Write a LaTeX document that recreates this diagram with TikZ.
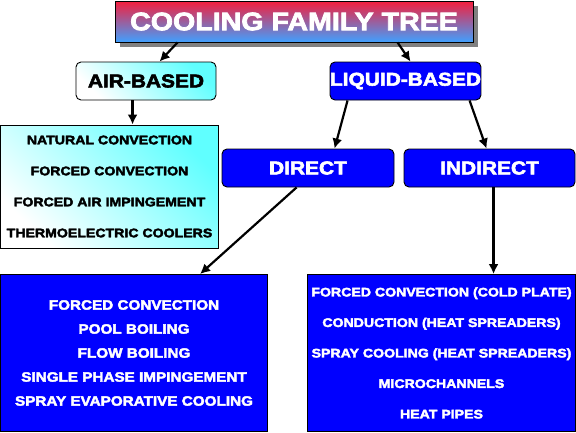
\documentclass[tikz,border=0pt]{standalone}
\usepackage{fontspec}
\setmainfont{Liberation Sans}[FakeStretch=1.13, BoldFeatures={FakeBold=3}]
\usetikzlibrary{arrows.meta,calc,shadows}
\definecolor{coolred}{RGB}{245,30,60}
\definecolor{coolblue}{RGB}{64,160,255}
\definecolor{aircyan}{RGB}{96,255,255}
\definecolor{deepblue}{RGB}{0,0,255}

\tikzset{
  box/.style={draw=black, line width=0.9pt, inner sep=0pt, align=center},
  branch/.style={box, rounded corners=5pt, minimum height=38pt,
    font=\bfseries\fontsize{18.5}{22}\selectfont},
  airfill/.style={top color=aircyan, bottom color=white, shading angle=-45},
  liquidfill/.style={fill=deepblue, text=white},
  listbox/.style 2 args={box, font=\bfseries\fontsize{#1}{#2}\selectfont},
  flow/.style={line width=2.2pt, -{Latex[length=10pt,width=10pt]}},
}

\begin{document}
\begin{tikzpicture}[x=1pt,y=-1pt]
    \useasboundingbox (0,0) rectangle (576,432);
    % title
    \node[box, minimum width=358pt, minimum height=41pt, top color=coolred,
      bottom color=coolblue, text=white,
      general shadow={fill=gray, shadow xshift=5pt, shadow yshift=-5pt},
      font=\bfseries\fontsize{25.3}{30}\selectfont] (title) at (294,21.5) {COOLING FAMILY TREE};
    % first level
    \node[branch, airfill, minimum width=140pt] (air) at (146,81) {AIR-BASED};
    \node[branch, liquidfill, minimum width=147pt] (liquid) at (405.5,81) {LIQUID-BASED};
    % second level
    \node[branch, liquidfill, minimum width=172pt] (direct) at (308,168) {DIRECT};
    \node[branch, liquidfill, minimum width=171pt] (indirect) at (489.5,168) {INDIRECT};
    % lists
    \node[listbox={12.5}{31}, airfill, minimum width=218pt, minimum height=123pt] (airlist) at (109.5,186.5)
      {NATURAL CONVECTION\\FORCED CONVECTION\\FORCED AIR IMPINGEMENT\\THERMOELECTRIC COOLERS};
    \node[listbox={13.5}{24}, liquidfill, minimum width=267pt, minimum height=157pt] (directlist) at (134,353)
      {FORCED CONVECTION\\POOL BOILING\\FLOW BOILING\\SINGLE PHASE IMPINGEMENT\\SPRAY EVAPORATIVE COOLING};
    \node[listbox={12.5}{30.5}, liquidfill, minimum width=268pt, minimum height=157pt] (indirectlist) at (441.5,353)
      {FORCED CONVECTION (COLD PLATE)\\CONDUCTION (HEAT SPREADERS)\\SPRAY COOLING (HEAT SPREADERS)\\MICROCHANNELS\\HEAT PIPES};
    % arrows
    \draw[flow] ([xshift=63pt]title.south west) -- ([xshift=84pt]air.north west);
    \draw[flow] ([xshift=283pt]title.south west) -- ([xshift=81pt]liquid.north west);
    \draw[flow] ([xshift=57pt]air.south west) -- ([xshift=57pt]air.south west |- airlist.north);
    \draw[flow] ([xshift=18pt]liquid.south west) -- ([xshift=113pt]direct.north west);
    \draw[flow] ([xshift=140pt]liquid.south west) -- ([xshift=83pt]indirect.north west);
    \draw[flow] ([xshift=75pt]direct.south west) -- ([xshift=200pt]directlist.north west);
    \draw[flow] ([xshift=90pt]indirect.south west) -- ([xshift=90pt]indirect.south west |- indirectlist.north);
\end{tikzpicture}
\end{document}
